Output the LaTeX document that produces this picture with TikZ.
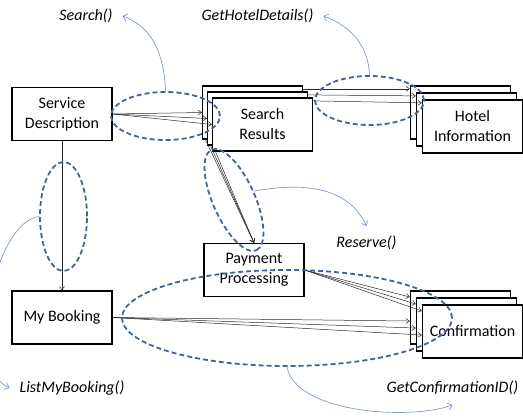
\documentclass[tikz,border=0pt]{standalone}
\usepackage{fontspec}
\setmainfont{Carlito}
\usepackage{tikz}
\usetikzlibrary{
arrows.meta,
positioning,
shapes.geometric,
calc
}
\definecolor{ringblue}{RGB}{68,100,150}
\definecolor{callblue}{RGB}{125,155,205}
\definecolor{linkgray}{RGB}{40,40,40}

\begin{document}
\begin{tikzpicture}[
  x=1pt, y=1pt,
  every node/.style={font=\fontsize{16}{20}\selectfont},
  box/.style={draw, line width=1.3pt, fill=white, align=center,
    minimum width=100pt, minimum height=53pt, inner sep=2pt},
  link/.style={linkgray, line width=0.5pt,
    -{Straight Barb[length=3.5pt, width=5pt]}},
  ring/.style={ellipse, draw=ringblue, line width=1.8pt,
    dash pattern=on 5pt off 3pt, inner sep=0pt},
  call/.style={callblue, line width=0.7pt,
    -{Straight Barb[length=4pt, width=7pt]}},
  opname/.style={font=\fontsize{16}{20}\selectfont\itshape,
    inner sep=0pt, outer sep=10pt}
]
\useasboundingbox (0,0) rectangle (523,417);

%% ── SINGLE BOXES ────────────────────────────────────────────────
\node[box] (sd) at (62,303) {Service\\Description};
\node[box] (mb) at (62,99.5) {My Booking};
\node[box] (pp) at (254,147) {Payment\\Processing};

%% ── STACKED BOXES (back, middle, front) ─────────────────────────
\foreach \k in {0,1} {
  \node[box] (sr\k) at ({252.5+5*\k},{304.5-6*\k}) {};
  \node[box] (hi\k) at ({460.5+6*\k},{304.5-7*\k}) {};
  \node[box] (cf\k) at ({460.5+6*\k},{99.5-7*\k}) {};
}
\node[box] (sr2) at (262.5,292.5) {Search\\Results};
\node[box] (hi2) at (472.5,290.5) {Hotel\\Information};
\node[box] (cf2) at (472.5,85.5) {Confirmation};

%% ── CALLS ───────────────────────────────────────────────────────
\draw[link] (sd.south) -- (mb.north);
\foreach \k in {0,1,2} {
  \draw[link] (sd.east) -- (sr\k.west);
  \draw[link] (sr\k.25) -- (hi\k.155);
  \draw[link] (sr\k.-150) -- (pp.north);
  \draw[link] (pp.east) -- (cf\k.158);
  \draw[link] (mb.east) -- (cf\k.184);
}

%% ── OPERATION RINGS ─────────────────────────────────────────────
\node[ring, minimum width=109pt, minimum height=48pt] (e1) at (165.5,301) {};
\node[ring, minimum width=109pt, minimum height=49pt] (e2) at (369.5,316.5) {};
\node[ring, minimum width=47pt, minimum height=109pt] (e3) at (63.5,200.5) {};
\node[ring, rotate=-66, minimum width=110pt, minimum height=42pt] (e4) at (234,217) {};
\node[ring, minimum width=330pt, minimum height=96pt] (e5) at (287,99) {};

%% ── OPERATION NAMES ─────────────────────────────────────────────
\node[opname] (search) at (86,401) {Search()};
\node[opname] (hotel) at (257.5,401) {GetHotelDetails()};
\node[opname] (reserve) at (366.5,174) {Reserve()};
\node[opname] (listmb) at (72,29) {ListMyBooking()};
\node[opname] (confid) at (452.5,29) {GetConfirmationID()};

\draw[call] (e1.north) to[out=92, in=-20] (search.east);
\draw[call] (e2.north) to[out=92, in=-20] (hotel.east);
\draw[call] (e4.north) to[out=10, in=115] (reserve.north);
\draw[call] (e3.west) .. controls +(-45,-5) and +(-45,20) .. (listmb.west);
\draw[call] (e5.south) to[out=-80, in=200, looseness=0.7] (confid.south);

\end{tikzpicture}
\end{document}
